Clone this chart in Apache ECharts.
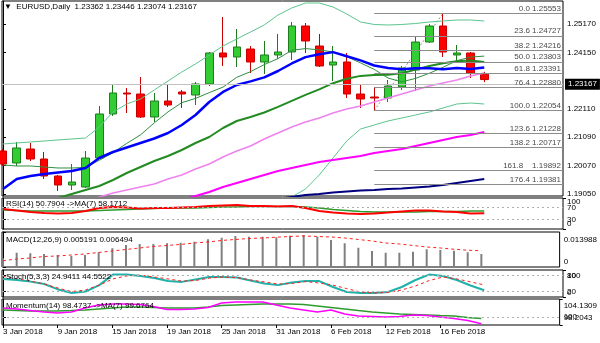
<!DOCTYPE html>
<html><head><meta charset="utf-8">
<script src="https://cdn.jsdelivr.net/npm/echarts@6/dist/echarts.min.js"></script>
<style>html,body{margin:0;padding:0;background:#fff;overflow:hidden}#c{width:600px;height:343px}</style>
</head><body><div id="c"></div><script>
const dates = ['3 Jan','4 Jan','5 Jan','8 Jan','9 Jan','10 Jan','11 Jan','12 Jan','15 Jan','16 Jan','17 Jan','18 Jan','19 Jan','22 Jan','23 Jan','24 Jan','25 Jan','26 Jan','29 Jan','30 Jan','31 Jan','1 Feb','2 Feb','5 Feb','6 Feb','7 Feb','8 Feb','9 Feb','12 Feb','13 Feb','14 Feb','15 Feb','16 Feb','19 Feb','20 Feb','21 Feb'];
const dateLabelIdx = [0,4,8,12,16,20,24,28,32];
const open  = [1.20593,1.20161,1.20666,1.20305,1.19692,1.19368,1.19296,1.20341,1.21927,1.22684,1.22647,1.21819,1.22395,1.22720,1.22611,1.23008,1.24125,1.23981,1.24269,1.23801,1.24053,1.24161,1.25098,1.24377,1.23693,1.23801,1.22647,1.22539,1.22503,1.22900,1.23512,1.24521,1.25098,1.24053,1.24125,1.23362];
const close = [1.20125,1.20702,1.20305,1.19692,1.19368,1.19476,1.20341,1.21927,1.22684,1.22647,1.21819,1.22395,1.22251,1.22647,1.23008,1.24125,1.23981,1.24341,1.23801,1.24053,1.24161,1.25098,1.24557,1.23657,1.23801,1.22647,1.22467,1.22503,1.22936,1.23584,1.24521,1.25098,1.24161,1.24125,1.23404,1.23167];
const low   = [1.20053,1.20053,1.20233,1.19584,1.19152,1.19188,1.19260,1.20305,1.21855,1.21963,1.21783,1.21639,1.22179,1.22143,1.22251,1.22936,1.23657,1.23620,1.23404,1.23368,1.23909,1.23873,1.24125,1.23620,1.23116,1.22503,1.22143,1.22054,1.22359,1.22792,1.22756,1.24485,1.23981,1.23765,1.23224,1.23074];
const high  = [1.20666,1.20918,1.20882,1.20557,1.19729,1.20125,1.20593,1.22215,1.23008,1.22864,1.23260,1.22684,1.22972,1.22792,1.23080,1.24161,1.25422,1.24990,1.24377,1.24557,1.24810,1.25242,1.25206,1.24810,1.24377,1.24125,1.22972,1.22900,1.23152,1.23657,1.24702,1.25170,1.25553,1.24413,1.24161,1.23446];
const sma7  = [1.20089,1.20053,1.20053,1.20017,1.19981,1.19981,1.20002,1.20258,1.20536,1.20867,1.21174,1.21606,1.22002,1.22334,1.22489,1.22698,1.22896,1.23249,1.23451,1.23707,1.23923,1.24222,1.24284,1.24237,1.24161,1.23995,1.23768,1.23534,1.23224,1.23084,1.23210,1.23393,1.23610,1.23848,1.23977,1.24013];
const sma10 = [1.19224,1.19584,1.19692,1.19765,1.19819,1.19873,1.19981,1.20341,1.20557,1.20720,1.20882,1.21044,1.21242,1.21530,1.21891,1.22359,1.22720,1.22972,1.23102,1.23246,1.23476,1.23747,1.23977,1.24078,1.24157,1.24010,1.23858,1.23675,1.23588,1.23541,1.23577,1.23577,1.23538,1.23584,1.23545,1.23599];
const sma20 = [null,null,null,1.18792,1.18900,1.19044,1.19188,1.19332,1.19548,1.19801,1.20017,1.20233,1.20413,1.20630,1.20882,1.21098,1.21422,1.21675,1.21819,1.21981,1.22183,1.22402,1.22615,1.22813,1.23037,1.23195,1.23300,1.23329,1.23343,1.23393,1.23527,1.23660,1.23757,1.23830,1.23851,1.23804];
const bbUpper = [1.20846,1.20882,1.20918,1.20954,1.20990,1.21026,1.21062,1.21458,1.21999,1.22287,1.22467,1.22792,1.23116,1.23440,1.23729,1.24053,1.24377,1.24630,1.24882,1.25134,1.25494,1.25747,1.25927,1.25927,1.25783,1.25530,1.25242,1.25152,1.25134,1.25152,1.25188,1.25242,1.25278,1.25314,1.25314,1.25278];
const bbLower = [null,null,null,null,null,null,null,null,null,null,null,null,null,null,null,null,null,null,null,1.18287,1.18611,1.18936,1.19224,1.19729,1.20341,1.20954,1.21386,1.21530,1.21675,1.21783,1.21891,1.21999,1.22143,1.22287,1.22323,1.22287];
const sma55 = [null,null,null,null,null,null,1.18792,1.18936,1.19080,1.19188,1.19296,1.19404,1.19584,1.19729,1.19945,1.20125,1.20377,1.20593,1.20774,1.21026,1.21242,1.21458,1.21639,1.21783,1.21963,1.22107,1.22215,1.22359,1.22503,1.22647,1.22792,1.22936,1.23044,1.23152,1.23296,1.23404];
const sma100 = [null,null,null,null,null,null,null,null,null,null,null,null,null,1.18828,1.18972,1.19116,1.19296,1.19440,1.19584,1.19729,1.19873,1.19981,1.20089,1.20197,1.20269,1.20341,1.20413,1.20521,1.20593,1.20666,1.20774,1.20882,1.20990,1.21098,1.21170,1.21278];
const sma200 = [null,null,null,null,null,null,null,null,null,null,null,null,null,null,null,null,null,null,null,null,1.18864,1.18936,1.19008,1.19044,1.19098,1.19134,1.19170,1.19188,1.19224,1.19242,1.19278,1.19314,1.19368,1.19440,1.19512,1.19584];
const fibRatios = ['0.0','23.6','38.2','50.0','61.8','76.4','100.0','123.6','138.2','161.8','176.4'];
const fibPrices = [1.25553,1.24727,1.24216,1.23803,1.23391,1.22880,1.22054,1.21228,1.20717,1.19892,1.19381];
const fibStartIdx = 27, fibEndIdx = 32;
const priceTicks = [1.19050,1.20070,1.21090,1.22110,1.24150,1.25170];
const lastPrice = 1.23167;
const rsi   = [64.5,59.7,54.8,51.6,50.0,51.6,58.0,67.7,71.0,69.4,66.1,67.7,67.7,69.4,71.0,74.2,75.8,77.4,74.2,74.2,72.6,74.2,67.7,58.0,53.2,50.0,48.4,50.0,53.2,56.5,59.7,59.7,56.5,54.8,50.0,50.79];
const rsiMa = [61.3,59.7,58.1,58.1,58.1,58.1,58.1,59.7,61.3,62.9,64.5,66.1,67.7,67.7,67.7,69.4,71.0,71.0,72.6,72.6,72.6,72.6,71.0,67.7,62.9,59.7,56.5,54.8,54.8,54.8,54.8,56.5,56.5,56.5,58.1,58.17];
const macd  = [0.0035,0.0057,0.0055,0.0052,0.0048,0.0044,0.0048,0.0059,0.0075,0.0088,0.0092,0.0092,0.0095,0.0097,0.0101,0.0111,0.0117,0.0124,0.0121,0.0121,0.0119,0.0125,0.0128,0.0121,0.0108,0.0095,0.0077,0.0064,0.0057,0.0057,0.0061,0.0071,0.0068,0.0065,0.0059,0.005191];
const macdSignal = [0.0025,0.0032,0.0036,0.0042,0.0044,0.0048,0.0052,0.0058,0.0064,0.0070,0.0076,0.0082,0.0086,0.0090,0.0096,0.0100,0.0106,0.0110,0.0114,0.0116,0.0119,0.0122,0.0124,0.0122,0.0120,0.0116,0.0110,0.0104,0.0096,0.0092,0.0086,0.0080,0.0076,0.0071,0.0067,0.006494];
const stochK = [66.7,63,57,48,28,15,20,44,83,83,78,70,59,56,65,74,74,72,61,50,44,54,59,59,37,18.5,15,15,18.5,37,63,83,78,63,42.6,24.9411];
const stochD = [76,68,59,48,33,20,26,44,67,78,81,74,67,59,61,70,74,72,63,56,48,50,57,52,44,31,18.5,15,17,26,41,61,74,67,56,44.5522];
const mom   = [102.08,101.86,101.51,101.17,100.94,101.17,102.08,102.77,103.00,103.00,102.88,102.43,101.74,101.74,101.86,102.20,103.23,103.46,103.46,103.46,102.77,102.08,101.63,101.17,101.63,100.72,100.26,100.15,100.03,100.15,100.49,100.37,100.03,99.69,99.23,98.4737];
const momMa = [101.63,101.51,101.40,101.40,101.40,101.51,101.63,101.86,102.08,102.31,102.31,102.20,102.08,102.08,102.08,102.31,102.66,102.77,102.88,103.00,103.00,103.00,102.88,102.54,102.20,101.86,101.51,101.17,100.94,100.72,100.60,100.49,100.37,100.26,99.92,99.6764];

const FONT = 'Liberation Sans';
const FS = 8;
const xMin = -0.0727, xMax = 40.727;
const pts = arr => arr.map((v,i)=> v==null ? null : [i,v]).filter(Boolean);
const grids = [
  {left:2,right:37,top:1,height:195},
  {left:2,right:37,top:198,height:31},
  {left:2,right:37,top:232,height:35},
  {left:2,right:37,top:270,height:27},
  {left:2,right:37,top:299,height:26}
].map(g=>Object.assign(g,{show:true,borderColor:'#000',borderWidth:1,backgroundColor:'#fff'}));

const xAxes = grids.map((g,i)=>({
  type:'value', gridIndex:i, min:xMin, max:xMax,
  axisLine:{show:false}, splitLine:{show:false},
  axisTick: i===4 ? {show:true, customValues:dateLabelIdx, length:3, lineStyle:{color:'#000'}} : {show:false},
  axisLabel: i===4 ? {show:true, customValues:dateLabelIdx, align:'left', margin:3, color:'#000', fontSize:FS, fontFamily:FONT,
     showMinLabel:true, showMaxLabel:true, hideOverlap:false,
     formatter: v => dates[Math.round(v)] + ' 2018'} : {show:false}
}));

// inner labels (levels) on one axis
function levelAxis(gi, min, max, vals, fmt){
  return {type:'value', gridIndex:gi, position:'right', min, max,
    axisLine:{show:true,lineStyle:{color:'#000'}}, splitLine:{show:false},
    axisTick:{show:vals.length>0, customValues:vals, length:3, lineStyle:{color:'#000'}},
    axisLabel:{show:vals.length>0, customValues:vals, margin:4, color:'#000', fontSize:FS, fontFamily:FONT, formatter:fmt}};
}
// range-edge labels (min / max) on an overlaid axis, nudged inside the pane
function edgeAxis(gi, min, max, padTop, padBot, fmt){
  return {type:'value', gridIndex:gi, position:'right', min, max,
    axisLine:{show:false}, splitLine:{show:false},
    axisTick:{show:true, customValues:[min,max], length:3, lineStyle:{color:'#000'}},
    axisLabel:{show:true, customValues:[min,max], margin:4, color:'#000', fontSize:FS, fontFamily:FONT,
      showMinLabel:true, showMaxLabel:true,
      formatter: v => (Math.abs(v-max)<1e-9 ? '{t|' : '{b|') + fmt(v) + '}',
      rich:{t:{padding:[padTop,0,0,0],fontSize:FS,fontFamily:FONT,color:'#000'}, b:{padding:[0,0,padBot,0],fontSize:FS,fontFamily:FONT,color:'#000'}}
    }};
}

const yAxes = [
  {type:'value', gridIndex:0, position:'right', min:1.189718, max:1.259988,
   axisLine:{show:true,lineStyle:{color:'#000'}}, splitLine:{show:false},
   axisTick:{show:true, customValues:priceTicks, length:3, lineStyle:{color:'#000'}},
   axisLabel:{show:true, customValues:priceTicks, margin:4, color:'#000', fontSize:FS, fontFamily:FONT,
     showMinLabel:true, showMaxLabel:true, formatter:v=>v.toFixed(5)}},
  levelAxis(1, 0, 100, [30,70], v=>String(v)),
  edgeAxis(2, 0, 0.013988, 16, 10, v=> v===0?'0':'0.013988'),
  levelAxis(3, 0, 100, [20,80], v=>String(v)),
  levelAxis(4, 98.2043, 104.1309, [100], v=>'100'),
  edgeAxis(1, 0, 100, 8, 10, v=>String(v)),
  edgeAxis(3, 0, 100, 12, 8, v=>String(v)),
  edgeAxis(4, 98.2043, 104.1309, 14, 14, v=>v.toFixed(4))
];
yAxes[2].axisLine = {show:true, lineStyle:{color:'#000'}};

function line(gi, arr, color, width, z, dashed){
  return {type:'line', xAxisIndex:gi, yAxisIndex:gi, data:pts(arr), symbol:'none', silent:true, clip:true, z:z||3,
    lineStyle:{color, width, type: dashed ? [3,3] : 'solid'}};
}
function levels(vals){
  return {silent:true, symbol:'none', label:{show:false}, data: vals.map(v=>({yAxis:v})),
    lineStyle:{color:'#b0b0b0', width:1, type:[2,3]}, animation:false};
}

const fibData = fibRatios.map((r,k)=>[
  {name: r + (r==='161.8' ? '    ' : ' ') + fibPrices[k].toFixed(5), coord:[fibStartIdx, fibPrices[k]]},
  {coord:[xMax, fibPrices[k]]}
]);

const series = [
  {type:'line', xAxisIndex:0, yAxisIndex:0, symbol:'none', silent:true, z:1,
   data:[[fibStartIdx, fibPrices[6]],[fibEndIdx, fibPrices[0]]], lineStyle:{color:'#909090', width:1, type:[2,2]}},
  {type:'candlestick', xAxisIndex:0, yAxisIndex:0, barWidth:8, z:2,
   data: dates.map((d,i)=>[i, open[i], close[i], low[i], high[i]]),
   itemStyle:{color:'#32cd32', color0:'#ff0000', borderColor:'#1e7b1e', borderColor0:'#c80000', borderWidth:1},
   markLine:{silent:true, symbol:'none', animation:false,
     data:[
       ...fibData,
       {yAxis:lastPrice, lineStyle:{color:'#c0c0c0',width:1,type:'solid'},
        label:{show:true, position:'end', distance:2, formatter:lastPrice.toFixed(5), color:'#fff', backgroundColor:'#000', padding:[2,3,1,3], fontSize:FS, fontFamily:FONT}}
     ],
     lineStyle:{color:'#8c8c8c', width:1, type:'solid'},
     label:{show:true, position:'insideEndTop', formatter:'{b}', color:'#4a4a4a', fontSize:FS, fontFamily:FONT, distance:[2,1]}
   }},
  line(0, bbUpper, '#5cc48e', 1, 3),
  line(0, bbLower, '#5cc48e', 1, 3),
  line(0, sma7, '#2f8f3f', 1, 3),
  line(0, sma200, '#000080', 2, 3),
  line(0, sma100, '#ff00ff', 2, 3),
  line(0, sma55, '#ee82ee', 1.5, 3),
  line(0, sma20, '#228b22', 2, 3),
  line(0, sma10, '#0000ff', 2.5, 4),
  line(1, rsiMa, '#2e9b2e', 1.5, 3),
  Object.assign(line(1, rsi, '#ff0000', 2, 4), {markLine: levels([30,70])}),
  {type:'bar', xAxisIndex:2, yAxisIndex:2, barWidth:2, silent:true, data:pts(macd), itemStyle:{color:'#808080'}},
  line(2, macdSignal, '#ff2020', 1, 4, true),
  Object.assign(line(3, stochK, '#20b2aa', 2, 3), {markLine: levels([20,80])}),
  line(3, stochD, '#ff2020', 1, 4, true),
  Object.assign(line(4, momMa, '#2e9b2e', 1.5, 3), {markLine: levels([100])}),
  line(4, mom, '#ff00ff', 1.5, 4)
];

const titleStyle = {font: FS+'px "'+FONT+'"', fill:'#000'};
const graphic = [
  {type:'text', left:4, top:3, z:100, style:Object.assign({text:'\u25BC  EURUSD,Daily  1.23362 1.23446 1.23074 1.23167'}, titleStyle)},
  {type:'text', left:6, top:200, z:100, style:Object.assign({text:'RSI(14) 50.7904 ->MA(7) 58.1712'}, titleStyle)},
  {type:'text', left:6, top:236, z:100, style:Object.assign({text:'MACD(12,26,9) 0.005191 0.006494'}, titleStyle)},
  {type:'text', left:6, top:273, z:100, style:Object.assign({text:'Stoch(5,3,3) 24.9411 44.5522'}, titleStyle)},
  {type:'text', left:6, top:302, z:100, style:Object.assign({text:'Momentum(14) 98.4737 ->MA(7) 99.6764'}, titleStyle)}
];

const chart = echarts.init(document.getElementById('c'), null, {renderer:'canvas'});
chart.setOption({
  animation:false, backgroundColor:'#fff',
  textStyle:{fontFamily:FONT},
  grid:grids, xAxis:xAxes, yAxis:yAxes, series, graphic
});
</script></body></html>
